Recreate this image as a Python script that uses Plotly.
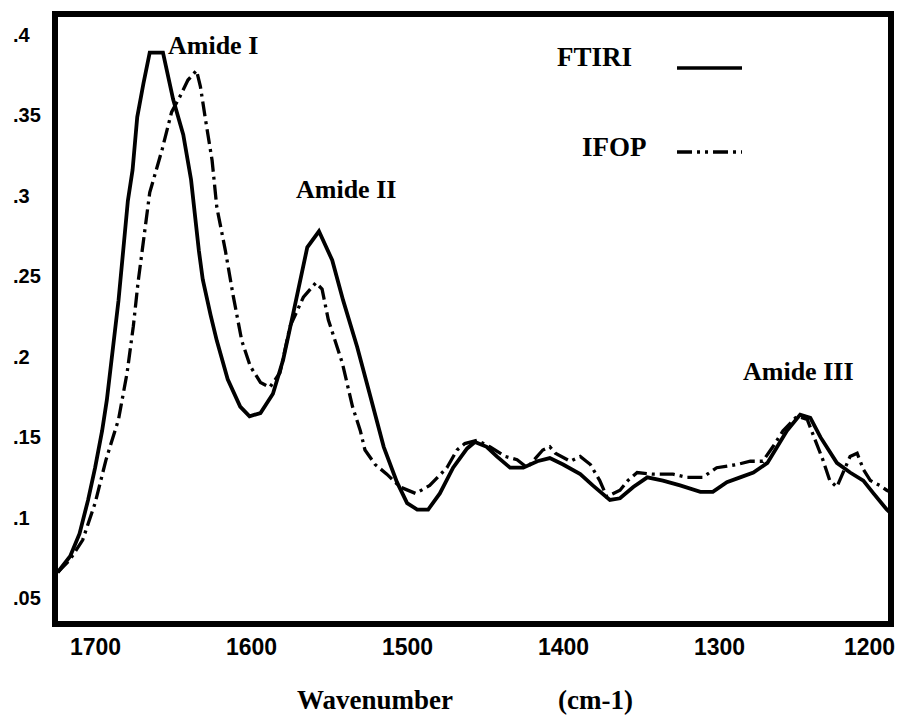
import plotly.graph_objects as go

# ---------------- data ----------------
ftiri_wn = [1724, 1716, 1710, 1704.5, 1700, 1695.5, 1692.5, 1688.5, 1685, 1682,
            1679, 1676, 1673, 1669, 1665, 1656.5, 1650, 1643.5, 1638.5, 1633.5,
            1631, 1626, 1622, 1615, 1607, 1601, 1594, 1586, 1579.5, 1573,
            1564, 1556.5, 1548, 1541, 1532, 1524, 1515, 1506.5, 1500, 1493.5,
            1486.5, 1479, 1470.5, 1461.5, 1456.5, 1449, 1442.5, 1434, 1425.5, 1416.5,
            1408.5, 1400, 1389, 1381, 1370, 1363.5, 1355, 1346, 1336, 1325,
            1312, 1304, 1295, 1286.5, 1278, 1269, 1263, 1256.5, 1248, 1241.5,
            1235, 1224.5, 1216, 1207.5, 1201, 1192.5, 1187]
ftiri_abs = [0.066, 0.076, 0.090, 0.111, 0.131, 0.154, 0.173, 0.204, 0.235, 0.266,
             0.297, 0.316, 0.349, 0.370, 0.389, 0.389, 0.360, 0.338, 0.310, 0.266,
             0.248, 0.226, 0.210, 0.186, 0.169, 0.163, 0.165, 0.177, 0.198, 0.227,
             0.268, 0.278, 0.260, 0.235, 0.206, 0.177, 0.144, 0.122, 0.109, 0.105,
             0.105, 0.115, 0.131, 0.143, 0.147, 0.144, 0.138, 0.131, 0.131, 0.135,
             0.137, 0.133, 0.127, 0.120, 0.111, 0.112, 0.119, 0.125, 0.123, 0.120,
             0.116, 0.116, 0.122, 0.125, 0.128, 0.134, 0.144, 0.154, 0.164, 0.162,
             0.150, 0.134, 0.128, 0.123, 0.115, 0.105, 0.100]

ifop_wn = [1724, 1716, 1708, 1700, 1693, 1685, 1679.5, 1675.5, 1672.5, 1669,
           1665, 1657, 1651, 1645.5, 1640.5, 1635, 1632.5, 1629.5, 1625, 1622,
           1616.5, 1611.5, 1606, 1600.5, 1594, 1588, 1581.5, 1575, 1566.5, 1558.5,
           1554.5, 1550.5, 1541.5, 1535, 1530, 1527, 1520.5, 1513, 1504.5, 1494.5,
           1485.5, 1474.5, 1468, 1463, 1455, 1447, 1437, 1429.5, 1423, 1413,
           1408.5, 1405, 1395.5, 1389, 1382.5, 1376.5, 1372, 1363.5, 1358.5, 1352.5,
           1342.5, 1329.5, 1320.5, 1310.5, 1301.5, 1288.5, 1280, 1272, 1265.5, 1259,
           1250, 1243.5, 1237.5, 1233.5, 1229, 1224.5, 1220.5, 1216, 1211.5, 1207.5,
           1203, 1197, 1192.5, 1187]
ifop_abs = [0.066, 0.074, 0.086, 0.109, 0.136, 0.161, 0.190, 0.219, 0.246, 0.274,
            0.302, 0.329, 0.352, 0.362, 0.372, 0.378, 0.368, 0.349, 0.322, 0.293,
            0.266, 0.238, 0.210, 0.194, 0.184, 0.181, 0.190, 0.219, 0.237, 0.246,
            0.242, 0.223, 0.196, 0.169, 0.154, 0.142, 0.133, 0.127, 0.119, 0.115,
            0.120, 0.131, 0.142, 0.146, 0.148, 0.144, 0.138, 0.136, 0.131, 0.142,
            0.144, 0.140, 0.135, 0.138, 0.133, 0.123, 0.113, 0.117, 0.123, 0.128,
            0.127, 0.127, 0.125, 0.125, 0.131, 0.133, 0.135, 0.135, 0.144, 0.154,
            0.163, 0.161, 0.146, 0.136, 0.123, 0.119, 0.128, 0.138, 0.140, 0.130,
            0.123, 0.120, 0.117, 0.114]

x_tickvals = [1700, 1600, 1500, 1400, 1300, 1200]
x_ticktext = ["1700", "1600", "1500", "1400", "1300", "1200"]
y_tickvals = [0.05, 0.1, 0.15, 0.2, 0.25, 0.3, 0.35, 0.4]
y_ticktext = [".05", ".1", ".15", ".2", ".25", ".3", ".35", ".4"]

x_range = [1723.8, 1191.7]
y_range = [0.0357, 0.4112]

series_names = ["FTIRI", "IFOP"]
peak_labels = ["Amide I", "Amide II", "Amide III"]

# ---------------- figure ----------------
SERIF = "Liberation Serif"
SANS = "Liberation Sans"
IFOP_DASH = "15px,5px,3px,5px"

fig = go.Figure()
fig.add_trace(go.Scatter(x=ftiri_wn, y=ftiri_abs, mode="lines", name=series_names[0],
                         line=dict(color="black", width=3.8), showlegend=False))
fig.add_trace(go.Scatter(x=ifop_wn, y=ifop_abs, mode="lines", name=series_names[1],
                         line=dict(color="black", width=3.3, dash=IFOP_DASH),
                         showlegend=False))

annotations = []
# y tick labels (left-aligned like the original), placed through the y axis
for v, t in zip(y_tickvals, y_ticktext):
    annotations.append(dict(x=-0.0566, xref="paper", y=v, yref="y", text=t,
                            xanchor="left", yanchor="middle", showarrow=False,
                            font=dict(family=SANS, size=20, color="black", weight="bold")))

# x tick labels, placed through the x axis (last one nudged to stay on the page)
for i, (v, t) in enumerate(zip(x_tickvals, x_ticktext)):
    annotations.append(dict(x=v, xref="x", y=-0.043, yref="paper", text=t,
                            xanchor="center", yanchor="middle", showarrow=False,
                            xshift=(-6 if i == len(x_tickvals) - 1 else 0),
                            font=dict(family=SANS, size=23, color="black", weight="bold")))

# peak labels
peak_pos = [(0.1867, 0.952), (0.347, 0.7136), (0.8916, 0.4139)]
for (px, py), t in zip(peak_pos, peak_labels):
    annotations.append(dict(x=px, y=py, xref="paper", yref="paper", text=t,
                            xanchor="center", yanchor="middle", showarrow=False,
                            font=dict(family=SERIF, size=26, color="black", weight="bold")))

# legend texts
legend_pos = [(0.6458, 0.9338), (0.6699, 0.7848)]
for (px, py), t in zip(legend_pos, series_names):
    annotations.append(dict(x=px, y=py, xref="paper", yref="paper", text=t,
                            xanchor="center", yanchor="middle", showarrow=False,
                            font=dict(family=SERIF, size=27, color="black", weight="bold")))

# axis title
annotations.append(dict(x=0.3819, y=-0.1308, xref="paper", yref="paper", text="Wavenumber",
                        xanchor="center", yanchor="middle", showarrow=False,
                        font=dict(family=SERIF, size=27, color="black", weight="bold")))
annotations.append(dict(x=0.647, y=-0.1308, xref="paper", yref="paper", text="(cm-1)",
                        xanchor="center", yanchor="middle", showarrow=False,
                        font=dict(family=SERIF, size=27, color="black", weight="bold")))

shapes = [
    dict(type="line", xref="paper", yref="paper", x0=0.7458, x1=0.8241, y0=0.9156, y1=0.9156,
         line=dict(color="black", width=3.5)),
    dict(type="line", xref="paper", yref="paper", x0=0.7458, x1=0.8241, y0=0.7765, y1=0.7765,
         line=dict(color="black", width=3.5, dash="15px,5px,3px,5px,3px,5px")),
]

fig.update_layout(
    width=897, height=721,
    margin=dict(l=58, r=9, t=17, b=100, pad=0, autoexpand=False),
    paper_bgcolor="white", plot_bgcolor="white",
    annotations=annotations, shapes=shapes,
    showlegend=False,
)
fig.update_xaxes(range=x_range, tickvals=x_tickvals, showticklabels=False,
                 showline=True, linewidth=6, linecolor="black", mirror=True,
                 showgrid=False, zeroline=False, ticks="", automargin=False)
fig.update_yaxes(range=y_range, tickvals=y_tickvals, showticklabels=False,
                 showline=True, linewidth=6, linecolor="black", mirror=True,
                 showgrid=False, zeroline=False, ticks="", automargin=False)

fig.write_html("out.html",
               config={"displayModeBar": False},
               post_script="document.body.style.margin='0';"
                           "document.body.style.padding='0';"
                           "document.body.style.overflow='hidden';")
